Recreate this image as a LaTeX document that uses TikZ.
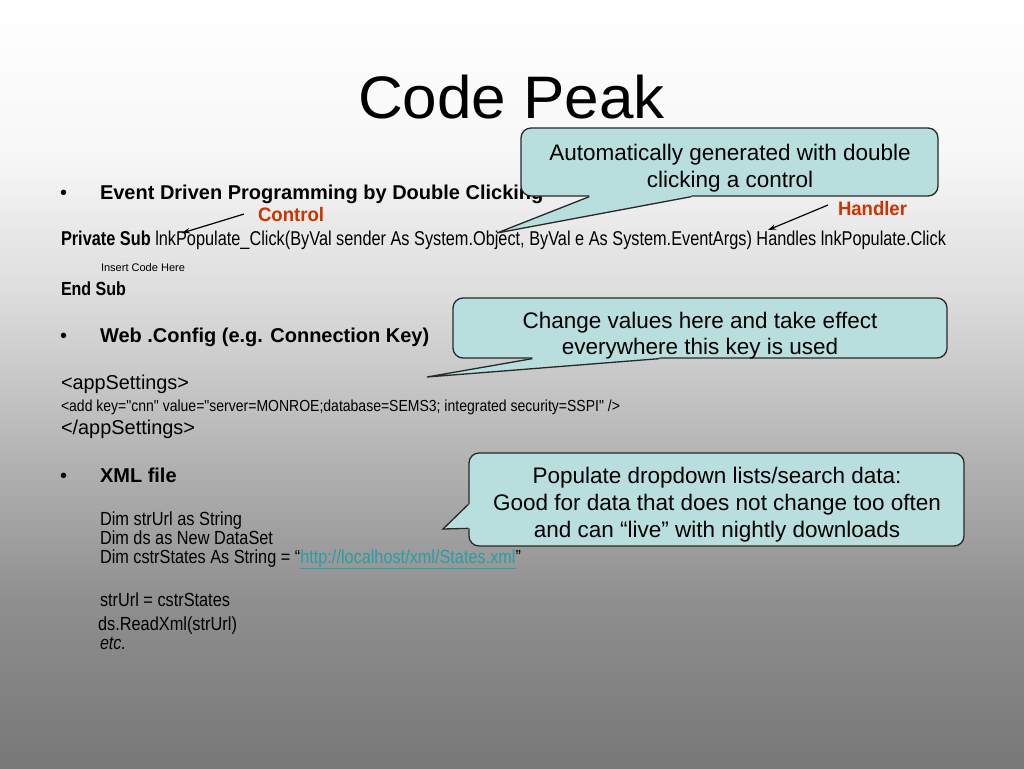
\documentclass[tikz,border=0pt]{standalone}
\usepackage{fontspec}
\setmainfont{Liberation Sans}
\newfontfamily\plainsans[Ligatures=TeXOff]{Liberation Sans}
\usetikzlibrary{arrows.meta,calc}
\definecolor{calloutfill}{RGB}{184,222,222}
\definecolor{calloutline}{RGB}{40,40,40}
\definecolor{labelred}{RGB}{204,51,0}
\definecolor{linkteal}{RGB}{40,158,166}
\definecolor{bgA}{gray}{0.97}
\definecolor{bgB}{gray}{0.86}
\definecolor{bgC}{gray}{0.71}
\definecolor{bgD}{gray}{0.56}
\definecolor{bgE}{gray}{0.47}
\newlength\fitlen
\newcommand\fitw[2]{\settowidth\fitlen{#2}\scalebox{\fpeval{#1/\fitlen}}[1]{#2}}
\begin{document}
\begin{tikzpicture}[x=1pt,y=-1pt,
  txt/.style={anchor=base west, inner sep=0pt, outer sep=0pt},
  ctr/.style={anchor=base, inner sep=0pt, outer sep=0pt},
  bul/.style={txt, font=\fontsize{20}{24}\selectfont},
  head/.style={txt, font=\fontsize{20}{24}\selectfont\bfseries},
  code/.style={txt, font=\fontsize{19}{22}\selectfont},
  lbl/.style={txt, font=\fontsize{19.5}{23}\selectfont\bfseries, text=labelred},
  callout/.style={draw=calloutline, fill=calloutfill, line width=1.3pt, rounded corners=10pt, inner sep=0pt},
  ptrfill/.style={fill=calloutfill},
  ptrline/.style={draw=calloutline, line width=1.3pt, line join=miter},
  ctext/.style={ctr, font=\fontsize{22.5}{27}\selectfont},
  arr/.style={-{Stealth[length=8pt,width=5.5pt]}, line width=1.2pt}]
\useasboundingbox (0,0) rectangle (1024,768);
% background gradient
\shade[top color=white, bottom color=bgA] (0,0) rectangle (1024,151);
\shade[top color=bgA, bottom color=bgB] (0,150) rectangle (1024,301);
\shade[top color=bgB, bottom color=bgC] (0,300) rectangle (1024,451);
\shade[top color=bgC, bottom color=bgD] (0,450) rectangle (1024,601);
\shade[top color=bgD, bottom color=bgE] (0,600) rectangle (1024,768);

% title
\node[txt, font=\fontsize{60}{70}\selectfont] (title) at (358,118) {\fitw{307pt}{Code Peak}};

% section 1
\node[bul] (bul1) at (60,199) {•};
\node[head] (h1) at (100,199) {Event Driven Programming by Double Clicking};
\node[lbl] (ctl) at (258,221) {\fitw{66pt}{Control}};
\node[lbl] (hdl) at (838,215) {\fitw{69pt}{Handler}};
\node[code, font=\fontsize{20}{24}\selectfont] (sub) at (61,245) {\fitw{885pt}{\textbf{Private Sub} lnkPopulate\_Click(ByVal sender As System.Object, ByVal e As System.EventArgs) Handles lnkPopulate.Click}};
\node[txt, font=\fontsize{11}{13}\selectfont] (ins) at (101,271) {\fitw{84pt}{Insert Code Here}};
\node[txt, font=\fontsize{19}{22}\selectfont\bfseries] (endsub) at (61,295) {\fitw{65pt}{End Sub}};
\coordinate (ctltip) at (182,233);
\coordinate (hdltip) at (768,230);
\draw[arr] ([xshift=-14pt]ctl.west) -- (ctltip);
\draw[arr] ([xshift=-10pt,yshift=3pt]hdl.west) -- (hdltip);

% section 2
\node[bul] (bul2) at (60,342) {•};
\node[head] (h2) at (100,342) {Web .Config (e.g. Connection Key)};
\node[txt, font=\fontsize{20}{24}\selectfont] (as1) at (61,389) {\fitw{128pt}{<appSettings>}};
\node[txt, font=\plainsans\fontsize{16}{19}\selectfont] (add) at (61,411) {\fitw{559pt}{<add key="cnn" value="server=MONROE;database=SEMS3; integrated security=SSPI" />}};
\node[txt, font=\fontsize{20}{24}\selectfont] (as2) at (61,434) {\fitw{134pt}{</appSettings>}};

% section 3
\node[bul] (bul3) at (60,482) {•};
\node[head] (h3) at (100,482) {XML file};
\node[code] (d1) at (100,525) {\fitw{142pt}{Dim strUrl as String}};
\node[code] (d2) at (100,544) {\fitw{173pt}{Dim ds as New DataSet}};
\node[code] (d3) at (100,563) {\fitw{421pt}{Dim cstrStates As String = “\textcolor{linkteal}{\underline{http://localhost/xml/States.xml}}”}};
\node[code] (s1) at (100,606) {\fitw{130pt}{strUrl = cstrStates}};
\node[code] (s2) at (98,630) {\fitw{139pt}{ds.ReadXml(strUrl)}};
\node[code] (s3) at (100,649) {\fitw{26pt}{\itshape etc.}};

% callout 1
\node[callout, minimum width=417pt, minimum height=68pt] (cb1) at (729.5,162) {};
\coordinate (p1a) at ($(cb1.south west)+(69,0)$);
\coordinate (p1b) at ($(cb1.south west)+(171,0)$);
\coordinate (p1t) at (497,233);
\fill[ptrfill] (p1a) -- (p1t) -- (p1b) -- ($(p1b)+(0,-2.5)$) -- ($(p1a)+(0,-2.5)$) -- cycle;
\draw[ptrline] (p1a) -- (p1t) -- (p1b);
\node[ctext] (c1a) at (730,160) {Automatically generated with double};
\node[ctext] (c1b) at (730,187) {clicking a control};

% callout 2
\node[callout, minimum width=494pt, minimum height=60pt] (cb2) at (700,328) {};
\coordinate (p2a) at ($(cb2.south west)+(80,0)$);
\coordinate (p2b) at ($(cb2.south west)+(207,0)$);
\coordinate (p2t) at (427,377);
\fill[ptrfill] (p2a) -- (p2t) -- (p2b) -- ($(p2b)+(0,-2.5)$) -- ($(p2a)+(0,-2.5)$) -- cycle;
\draw[ptrline] (p2a) -- (p2t) -- (p2b);
\node[ctext] (c2a) at (700,328) {Change values here and take effect};
\node[ctext] (c2b) at (700,354) {everywhere this key is used};

% callout 3
\node[callout, minimum width=495pt, minimum height=93pt] (cb3) at (716.5,499.5) {};
\coordinate (p3a) at ($(cb3.north west)+(0,52)$);
\coordinate (p3b) at ($(cb3.north west)+(0,76)$);
\coordinate (p3t) at (443,529);
\fill[ptrfill] (p3a) -- (p3t) -- (p3b) -- ($(p3b)+(2.5,0)$) -- ($(p3a)+(2.5,0)$) -- cycle;
\draw[ptrline] (p3a) -- (p3t) -- (p3b);
\node[ctext] (c3a) at (717,483) {Populate dropdown lists/search data:};
\node[ctext] (c3b) at (717,510) {Good for data that does not change too often};
\node[ctext] (c3c) at (717,537) {and can “live” with nightly downloads};
\end{tikzpicture}
\end{document}
